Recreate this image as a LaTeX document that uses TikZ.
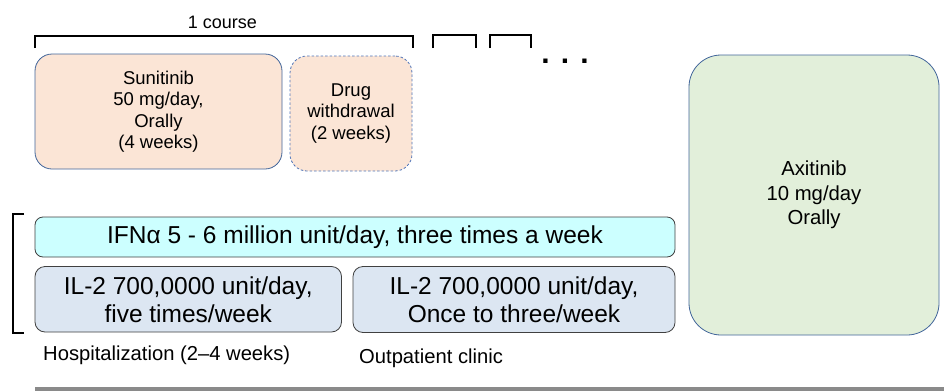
\documentclass[tikz,border=0pt]{standalone}
\usepackage{fontspec}
\setmainfont{Liberation Sans}
\definecolor{peach}{HTML}{FBE5D6}
\definecolor{bordblue}{HTML}{41659A}
\definecolor{dashblue}{HTML}{4F74B8}
\definecolor{cyanfill}{HTML}{CCFFFF}
\definecolor{ilfill}{HTML}{DCE6F2}
\definecolor{axfill}{HTML}{E2EFDA}
\definecolor{graybord}{HTML}{404040}
\definecolor{rulegray}{HTML}{8A8A8A}
\tikzset{
  box/.style={inner sep=0pt, outer sep=0pt, anchor=north west, align=center, text=black},
  sunbox/.style={box, draw=bordblue, fill=peach, line width=0.8pt, rounded corners=17pt,
    font=\fontsize{18.5}{21.5}\selectfont},
  drugbox/.style={sunbox, draw=dashblue, dashed, dash pattern=on 2.5pt off 2pt},
  ifnbox/.style={box, draw=graybord, fill=cyanfill, line width=0.8pt, rounded corners=8pt,
    font=\fontsize{24.5}{28}\selectfont},
  ilbox/.style={box, draw=graybord, fill=ilfill, line width=0.8pt, rounded corners=10pt,
    font=\fontsize{24.5}{28}\selectfont},
  axbox/.style={box, draw=bordblue, fill=axfill, line width=0.8pt, rounded corners=32pt,
    font=\fontsize{20.3}{24.5}\selectfont},
  lab/.style={inner sep=0pt, anchor=base west, font=\fontsize{20.2}{24}\selectfont},
  brk/.style={draw=black, line width=2pt}
}
\begin{document}
\begin{tikzpicture}[x=1pt,y=-1pt]
\useasboundingbox (0,0) rectangle (944,391);
% course label and brackets
\node[inner sep=0pt, anchor=base, font=\fontsize{18}{20}\selectfont] (course) at (222.5,28) {1 course};
\draw[brk] (35,48) -- (35,36) -- (413,36) -- (413,48);
\draw[brk] (433,48) -- (433,35) -- (476,35) -- (476,48);
\draw[brk] (490,48) -- (490,35) -- (531,35) -- (531,48);
\node[inner sep=0pt, anchor=base, font=\bfseries\fontsize{30}{32}\selectfont] (dots) at (565,63) {. . .};
% top boxes
\node[sunbox, minimum width=247pt, minimum height=115pt] (sun) at (35,54)
  {Sunitinib\\50 mg/day,\\Orally\\(4 weeks)};
\node[drugbox, minimum width=122pt, minimum height=115pt] (drug) at (290,56)
  {Drug\\withdrawal\\(2 weeks)};
% axitinib
\node[axbox, minimum width=250pt, minimum height=280pt] (axi) at (689,55)
  {Axitinib\\10 mg/day\\Orally};
% left bracket
\draw[brk] (24,214) -- (12.5,214) -- (12.5,332.5) -- (24,332.5);
% cytokine boxes
\node[ifnbox, minimum width=640pt, minimum height=40pt] (ifn) at (35,217)
  {IFNα 5 - 6 million unit/day, three times a week};
\node[ilbox, minimum width=306.5pt, minimum height=65.5pt] (il1) at (35,266.5)
  {IL-2 700,0000 unit/day,\\five times/week};
\node[ilbox, minimum width=322pt, minimum height=66pt] (il2) at (353,266.5)
  {IL-2 700,0000 unit/day,\\Once to three/week};
\node[lab] (hosp) at (43,360) {Hospitalization (2–4 weeks)};
\node[lab] (outp) at (359,363) {Outpatient clinic};
% bottom rule
\draw[rulegray, line width=3.5pt] (35,389) -- (944,389);
\end{tikzpicture}
\end{document}
